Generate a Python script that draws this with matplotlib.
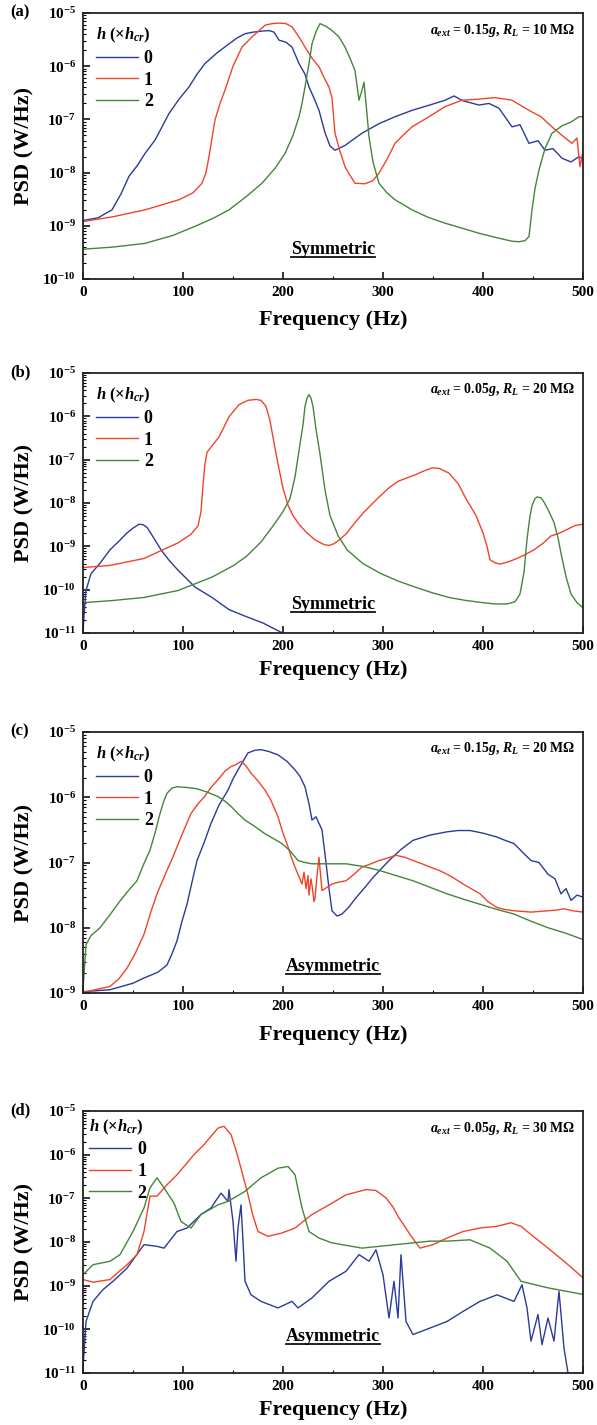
import numpy as np
import matplotlib
matplotlib.use("Agg")
import matplotlib.pyplot as plt
from matplotlib.ticker import MultipleLocator, LogLocator, FuncFormatter, NullFormatter

plt.rcParams['font.family'] = ['Liberation Serif', 'DejaVu Serif']
plt.rcParams['font.weight'] = 'bold'
plt.rcParams['mathtext.fontset'] = 'custom'
plt.rcParams['mathtext.rm'] = 'Liberation Serif:bold'
plt.rcParams['mathtext.it'] = 'Liberation Serif:bold:italic'
plt.rcParams['mathtext.bf'] = 'Liberation Serif:bold'

# ---------------- data (frequency in Hz, PSD as log10 W/Hz) ----------------
labels = ['0', '1', '2']
colors = ['#2c3a99', '#f0442a', '#45853a']

# panel (a)
a0_f = [0, 15, 29, 38, 46, 55, 62, 72, 86, 96, 106, 114, 122, 134, 146, 154, 162, 170, 179, 186,
        191, 196, 203, 209, 216, 222, 226, 231, 236, 242, 247, 252, 262, 270,
        279, 296, 312, 329, 345, 362, 371, 380, 396, 406, 416, 429, 437, 446, 455, 462, 470, 479, 488, 496, 500]
a0_l = [-8.9, -8.85, -8.7, -8.4, -8.07, -7.85, -7.64, -7.39, -6.89, -6.62, -6.39, -6.15, -5.95, -5.75,
        -5.58, -5.47, -5.39, -5.36, -5.34, -5.33, -5.36, -5.51, -5.55, -5.64, -5.95, -6.15, -6.39, -6.6,
        -6.83, -7.25, -7.5, -7.58, -7.49, -7.38, -7.26, -7.08, -6.95, -6.83, -6.74, -6.64, -6.56, -6.65,
        -6.73, -6.7, -6.79, -7.14, -7.1, -7.45, -7.4, -7.58, -7.55, -7.73, -7.8, -7.70, -7.75]
a1_f = [0, 30, 62, 96, 110, 119, 123, 126, 129, 132, 137, 142, 150, 159, 169, 175, 182, 189, 196, 203,
        209, 216, 222, 229, 236, 242, 246, 249, 252, 257, 262, 267, 272, 282, 290, 296,
        304, 312, 320, 329, 346, 362, 379, 395, 412, 429, 446, 458, 469, 479, 489, 494, 497, 500]
a1_l = [-8.92, -8.83, -8.7, -8.51, -8.38, -8.2, -8.0, -7.7, -7.35, -7.01, -6.7, -6.45, -6.0, -5.64,
        -5.45, -5.35, -5.23, -5.2, -5.19, -5.2, -5.26, -5.45, -5.64, -5.85, -6.01, -6.25, -6.39, -6.6,
        -7.26, -7.6, -7.89, -8.05, -8.2, -8.21, -8.15, -8.01, -7.75, -7.45, -7.3, -7.14, -6.95, -6.76,
        -6.64, -6.62, -6.59, -6.64, -6.83, -6.95, -7.14, -7.3, -7.45, -7.35, -7.89, -7.6]
a2_f = [0, 30, 62, 90, 112, 130, 146, 162, 179, 192, 202, 210, 216, 219, 222, 226, 229, 233, 237, 243,
        249, 256, 262, 267, 272, 276, 279, 281, 284, 286, 290, 296, 304, 312, 329, 345, 362,
        380, 396, 413, 429, 436, 442, 446, 449, 452, 456, 462, 469, 479, 488, 496, 500]
a2_l = [-9.44, -9.4, -9.33, -9.18, -9.01, -8.86, -8.7, -8.47, -8.2, -7.92, -7.64, -7.3, -6.95, -6.7,
        -6.39, -5.95, -5.58, -5.35, -5.2, -5.25, -5.33, -5.45, -5.64, -5.85, -6.08, -6.64, -6.45, -6.3,
        -6.9, -7.33, -7.8, -8.2, -8.38, -8.51, -8.7, -8.84, -8.95, -9.05, -9.14, -9.22, -9.29, -9.3,
        -9.28, -9.2, -8.7, -8.3, -7.95, -7.55, -7.26, -7.12, -7.05, -6.95, -6.95]

# panel (b)
b0_f = [0, 1, 3, 8, 17, 27, 36, 44, 50, 56, 60, 64, 70, 78, 86, 95, 112, 129, 146, 163, 180, 197, 200]
b0_l = [-11.0, -10.6, -10.02, -9.63, -9.39, -9.08, -8.88, -8.69, -8.58, -8.49, -8.5, -8.56, -8.78, -9.08,
        -9.32, -9.55, -9.94, -10.18, -10.46, -10.62, -10.77, -10.97, -11.0]
b1_f = [0, 27, 61, 95, 108, 115, 118, 120, 122, 124, 130, 136, 146, 156, 165, 173, 178, 183, 187, 190,
        195, 200, 205, 210, 217, 224, 232, 241, 246, 251, 257, 264, 272, 281, 290,
        298, 306, 315, 324, 332, 340, 349, 356, 366, 375, 383, 393, 400, 404, 407, 412, 417, 425, 434,
        443, 451, 460, 468, 476, 485, 492, 500]
b1_l = [-9.49, -9.44, -9.28, -8.92, -8.72, -8.53, -8.2, -7.58, -7.1, -6.83, -6.65, -6.48, -6.01, -5.73,
        -5.63, -5.61, -5.63, -5.77, -6.1, -6.48, -7.1, -7.66, -8.05, -8.29, -8.52, -8.69, -8.85, -8.96,
        -8.98, -8.94, -8.84, -8.69, -8.45, -8.21, -8.0, -7.82, -7.65, -7.5, -7.42, -7.35, -7.27, -7.19,
        -7.2, -7.31, -7.55, -7.9, -8.29, -8.69, -9.0, -9.31, -9.38, -9.41, -9.36, -9.28, -9.18, -9.08,
        -8.93, -8.76, -8.7, -8.6, -8.52, -8.49]
b2_f = [0, 30, 61, 95, 129, 150, 163, 178, 190, 200, 207, 212, 217, 220, 222, 224, 226, 228, 230, 233,
        237, 242, 247, 255, 264, 280, 298, 315, 332, 349, 366, 383, 400, 412, 424, 432, 437, 441,
        444, 447, 449, 452, 454, 458, 461, 465, 471, 475, 478, 483, 488, 494, 500]
b2_l = [-10.3, -10.25, -10.18, -10.02, -9.71, -9.45, -9.24, -8.9, -8.53, -8.2, -7.9, -7.4, -6.64, -6.2,
        -5.77, -5.58, -5.5, -5.58, -5.77, -6.3, -6.87, -7.7, -8.29, -8.75, -9.08, -9.4, -9.63, -9.8,
        -9.94, -10.07, -10.18, -10.25, -10.3, -10.33, -10.33, -10.28, -10.1, -9.6, -8.84, -8.3, -8.06,
        -7.9, -7.86, -7.88, -7.98, -8.15, -8.45, -8.8, -9.16, -9.7, -10.1, -10.3, -10.42]

# panel (c)
c0_f = [0, 27, 50, 61, 75, 84, 89, 94, 99, 104, 109, 114, 121, 128, 136, 145, 150, 155, 160, 165, 172, 178,
        186, 195, 204, 212, 217, 222, 226, 229, 233, 236, 239, 242, 246, 249, 254, 259, 266,
        273, 282, 290, 298, 306, 318, 330, 347, 364, 375, 387, 400, 414, 422, 431, 440, 448, 456,
        465, 472, 478, 483, 488, 494, 500]
c0_l = [-8.98, -8.95, -8.85, -8.77, -8.68, -8.57, -8.4, -8.2, -7.9, -7.64, -7.3, -6.97, -6.7, -6.4,
        -6.12, -5.89, -5.72, -5.58, -5.45, -5.32, -5.28, -5.27, -5.3, -5.35, -5.45, -5.58, -5.68, -5.84,
        -6.1, -6.35, -6.3, -6.4, -6.5, -6.87, -7.4, -7.74, -7.82, -7.79, -7.68, -7.54, -7.38, -7.23,
        -7.1, -6.97, -6.8, -6.66, -6.58, -6.53, -6.51, -6.51, -6.55, -6.61, -6.66, -6.71, -6.85, -6.97,
        -7.0, -7.18, -7.25, -7.48, -7.4, -7.58, -7.5, -7.53]
c1_f = [0, 27, 36, 44, 52, 61, 68, 74, 79, 84, 89, 94, 101, 108, 115, 121, 128, 135, 142, 148, 153, 158,
        163, 168, 175, 182, 188, 195, 200, 205, 209, 212, 216, 219, 221, 223, 225, 226, 228, 229,
        231, 232, 234, 236, 239, 244, 249, 256, 263, 271, 279, 288, 296, 305, 313, 322, 330, 339,
        347, 356, 364, 372, 380, 388, 397, 405, 414, 422, 431, 448, 465, 473, 481, 490, 500]
c1_l = [-8.99, -8.9, -8.78, -8.62, -8.4, -8.1, -7.75, -7.48, -7.3, -7.12, -6.95, -6.76, -6.5, -6.25,
        -6.1, -6.0, -5.85, -5.73, -5.6, -5.53, -5.5, -5.45, -5.52, -5.63, -5.75, -5.89, -6.05, -6.3,
        -6.55, -6.76, -6.95, -7.07, -7.22, -7.33, -7.15, -7.4, -7.2, -7.5, -7.25, -7.35, -7.6, -7.55,
        -7.2, -6.92, -7.43, -7.38, -7.33, -7.3, -7.28, -7.18, -7.07, -7.02, -6.97, -6.93, -6.89, -6.92,
        -6.97, -7.02, -7.07, -7.12, -7.18, -7.25, -7.33, -7.4, -7.48, -7.6, -7.69, -7.72, -7.74, -7.76,
        -7.74, -7.73, -7.71, -7.74, -7.76]
c2_f = [0, 3, 8, 17, 27, 37, 46, 54, 60, 67, 72, 77, 81, 84, 89, 94, 104, 114, 124, 135, 142, 148, 155,
        162, 172, 182, 190, 199, 207, 215, 222, 229, 245, 263, 280, 296, 313, 330, 347, 364, 380,
        397, 414, 431, 448, 465, 482, 500]
c2_l = [-8.95, -8.26, -8.12, -8.0, -7.8, -7.59, -7.42, -7.28, -7.05, -6.81, -6.55, -6.25, -6.05, -5.94,
        -5.86, -5.84, -5.85, -5.87, -5.92, -5.99, -6.06, -6.14, -6.25, -6.35, -6.45, -6.56, -6.63,
        -6.71, -6.82, -6.97, -7.0, -7.02, -7.02, -7.02, -7.06, -7.12, -7.2, -7.28, -7.38, -7.48, -7.56,
        -7.64, -7.72, -7.79, -7.9, -8.0, -8.08, -8.18]

# panel (d)
d0_f = [0, 3, 10, 20, 30, 44, 61, 74, 81, 94, 104, 118, 128, 138, 145, 146, 150, 153, 155, 158,
        160, 162, 168, 178, 195, 209, 215, 229, 246, 263, 276, 286, 293, 300, 306, 311, 315, 318, 323, 330,
        347, 364, 380, 397, 414, 431, 439, 444, 448, 455, 459, 465, 471, 476, 481, 485]
d0_l = [-10.89, -9.82, -9.36, -9.09, -8.9, -8.6, -8.06, -8.1, -8.14, -7.76, -7.68, -7.37, -7.22, -6.88,
        -7.07, -6.8, -7.53, -8.44, -7.68, -7.15, -7.98, -8.9, -9.21, -9.36, -9.51, -9.36, -9.51, -9.28,
        -8.9, -8.67, -8.29, -8.44, -8.18, -8.75, -9.74, -8.9, -9.74, -8.29, -9.82, -10.12, -9.97, -9.82,
        -9.59, -9.36, -9.21, -9.36, -8.98, -9.51, -10.27, -9.66, -10.35, -9.74, -10.27, -9.13, -10.43, -11.0]
d1_f = [0, 10, 27, 44, 54, 61, 67, 74, 84, 94, 111, 121, 128, 135, 141, 148, 153, 158, 165, 170, 175, 185,
        198, 212, 229, 246, 263, 283, 293, 303, 310, 316, 322, 327, 337, 350, 364, 380, 397, 414, 428,
        438, 448, 465, 481, 500]
d1_l = [-8.86, -8.92, -8.86, -8.52, -8.29, -7.76, -6.95, -6.95, -6.69, -6.46, -6.0, -5.77, -5.58, -5.39,
        -5.35, -5.54, -5.9, -6.31, -6.92, -7.4, -7.76, -7.87, -7.8, -7.68, -7.37, -7.15, -6.92, -6.8,
        -6.82, -6.99, -7.2, -7.45, -7.65, -7.83, -8.14, -8.06, -7.91, -7.76, -7.68, -7.64, -7.56, -7.64,
        -7.83, -8.14, -8.44, -8.82]
d2_f = [0, 10, 27, 37, 50, 61, 67, 74, 81, 91, 98, 108, 118, 135, 145, 162, 178, 195, 205, 212,
        219, 226, 236, 249, 279, 313, 347, 364, 387, 407, 424, 438, 465, 500]
d2_l = [-8.75, -8.52, -8.44, -8.29, -7.76, -7.22, -6.76, -6.53, -6.76, -7.11, -7.53, -7.68, -7.37, -7.15,
        -7.07, -6.84, -6.53, -6.31, -6.27, -6.46, -7.22, -7.76, -7.91, -8.02, -8.14, -8.06, -7.98, -7.98,
        -7.95, -8.14, -8.44, -8.9, -9.05, -9.2]

panel_tags = ['(a)', '(b)', '(c)', '(d)']
conditions = [r'$a_{ext}$ = 0.15$g$, $R_L$ = 10 M$\Omega$',
              r'$a_{ext}$ = 0.05$g$, $R_L$ = 20 M$\Omega$',
              r'$a_{ext}$ = 0.15$g$, $R_L$ = 20 M$\Omega$',
              r'$a_{ext}$ = 0.05$g$, $R_L$ = 30 M$\Omega$']
geometry = ['Symmetric', 'Symmetric', 'Asymmetric', 'Asymmetric']
ylims_exp = [(-10, -5), (-11, -5), (-9, -5), (-11, -5)]
series = [
    [(a0_f, a0_l), (a1_f, a1_l), (a2_f, a2_l)],
    [(b0_f, b0_l), (b1_f, b1_l), (b2_f, b2_l)],
    [(c0_f, c0_l), (c1_f, c1_l), (c2_f, c2_l)],
    [(d0_f, d0_l), (d1_f, d1_l), (d2_f, d2_l)],
]

# ---------------- layout (pixels) ----------------
W, H = 597, 1425
fig = plt.figure(figsize=(W / 100, H / 100), dpi=100)
fig.patch.set_facecolor('white')
boxes = [(13, 279), (373, 633), (732, 993), (1111, 1373)]
xlab_off = [41, 37, 42, 37]
geo_y = [0.11, 0.11, 0.10, 0.14]
leg_pad = [0.42, 0.42, 0.42, 0.05]
left, right = 83, 583

axes = []
for i, (top, bot) in enumerate(boxes):
    ax = fig.add_axes([left / W, 1 - bot / H, (right - left) / W, (bot - top) / H])
    axes.append(ax)
    for k, (f, l) in enumerate(series[i]):
        ax.semilogy(np.array(f), np.power(10.0, np.array(l)), color=colors[k], lw=1.0, label=labels[k])
    ax.set_xlim(0, 500)
    lo, hi = ylims_exp[i]
    ax.set_ylim(10.0 ** lo, 10.0 ** hi)
    ax.xaxis.set_major_locator(MultipleLocator(100))
    ax.xaxis.set_minor_locator(MultipleLocator(50))
    ax.yaxis.set_major_locator(LogLocator(base=10, numticks=20))
    ax.yaxis.set_minor_locator(LogLocator(base=10, subs=np.arange(2, 10), numticks=20))
    ax.yaxis.set_minor_formatter(NullFormatter())
    ax.yaxis.set_major_formatter(FuncFormatter(lambda v, p: r'$\mathbf{10^{%d}}$' % int(round(np.log10(v)))))
    ax.tick_params(which='both', direction='in', top=False, right=False)
    ax.tick_params(which='major', length=5, width=1.1, labelsize=11, pad=5)
    ax.tick_params(which='minor', length=2.5, width=0.8)
    for lab in ax.get_xticklabels():
        lab.set_fontweight('bold')
    for s in ax.spines.values():
        s.set_linewidth(1.3)
        s.set_color('#222222')

    ax.set_xlabel('Frequency (Hz)', fontsize=16, fontweight='bold')
    ax.xaxis.set_label_coords(0.5, -xlab_off[i] / (bot - top))
    ax.xaxis.label.set_va('center')
    ax.set_ylabel('PSD (W/Hz)', fontsize=16, fontweight='bold')
    ax.yaxis.set_label_coords(-0.117, 0.5)
    ax.yaxis.label.set_va('center')

    leg = ax.legend(loc='upper left', frameon=False, fontsize=13, title=r'$h$ (×$h_{cr}$)',
                    title_fontproperties={'size': 12, 'weight': 'bold'},
                    handlelength=2.3, handletextpad=0.35, labelspacing=0.26,
                    borderaxespad=leg_pad[i], borderpad=0.3, alignment='left')
    for t in leg.get_texts():
        t.set_fontweight('bold')

    ax.text(0.985, 0.935, conditions[i], transform=ax.transAxes, ha='right', va='center',
            fontsize=10, fontweight='bold')
    fig.text(20 / W, 1 - (top - 1) / H, panel_tags[i], ha='center', va='center',
             fontsize=12, fontweight='bold')
    ax.text(0.5, geo_y[i], geometry[i], transform=ax.transAxes, ha='center', va='center',
            fontsize=13, fontweight='bold', gid='geo%d' % i)

# underline the geometry labels
fig.canvas.draw()
renderer = fig.canvas.get_renderer()
for i, ax in enumerate(axes):
    for t in ax.texts:
        if t.get_gid() == 'geo%d' % i:
            bb = t.get_window_extent(renderer)
            inv = ax.transAxes.inverted()
            (x0, y0) = inv.transform((bb.x0, bb.y0 + 1))
            (x1, _) = inv.transform((bb.x1, bb.y0 + 1))
            ax.plot([x0, x1], [y0, y0], transform=ax.transAxes, color='#111111', lw=1.3,
                    clip_on=False)

fig.savefig('out.png', dpi=100, facecolor='white')
